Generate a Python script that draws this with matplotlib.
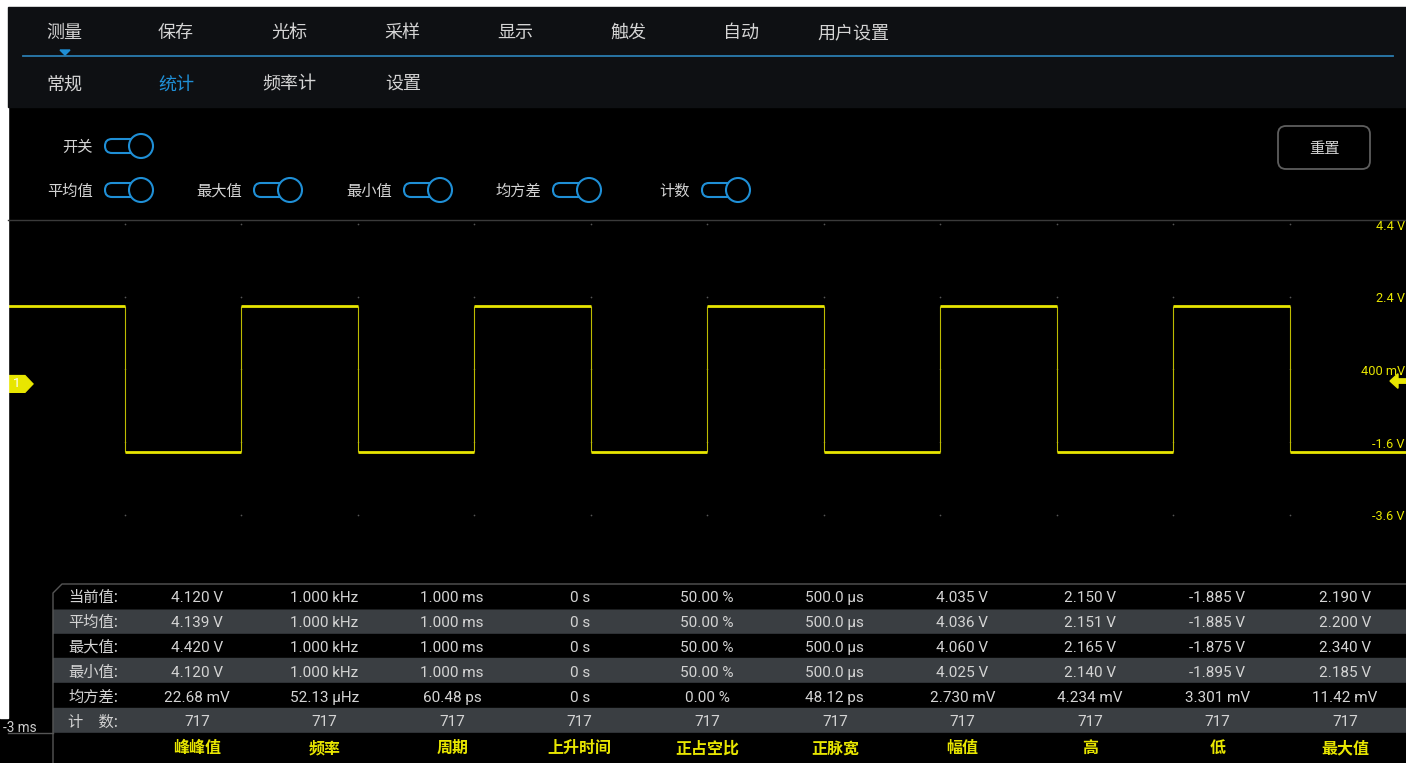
import matplotlib
matplotlib.use("Agg")
import matplotlib.pyplot as plt
from matplotlib.patches import Rectangle, FancyBboxPatch, Circle, Polygon

plt.rcParams['font.family'] = ['Noto Sans CJK SC', 'DejaVu Sans']

###### DATA ######

menu_items = ['测量', '保存', '光标', '采样', '显示', '触发', '自动', '用户设置']
submenu_items = ['常规', '统计', '频率计', '设置']
toggle_labels = ['平均值', '最大值', '最小值', '均方差', '计数']

# square wave: edge times (ms) and level of each segment (V)
edge_times = [-3.0, -2.5, -2.0, -1.5, -1.0, -0.5, 0.0, 0.5, 1.0, 1.5, 2.0, 2.5, 3.0]
segment_levels = [2.15, -1.885, 2.15, -1.885, 2.15, -1.885,
                  2.15, -1.885, 2.15, -1.885, 2.15, -1.885]
grid_times = [-2.5, -2.0, -1.5, -1.0, -0.5, 0.0, 0.5, 1.0, 1.5, 2.0, 2.5]
volt_ticks = [4.4, 2.4, 0.4, -1.6, -3.6]
volt_labels = ['4.4 V', '2.4 V', '400 mV', '-1.6 V', '-3.6 V']
trigger_level = 0.08
channel_offset = 0.0

row_labels = ['当前值:', '平均值:', '最大值:', '最小值:', '均方差:', '计\u3000数:']
col_names = ['峰峰值', '频率', '周期', '上升时间', '正占空比', '正脉宽', '幅值', '高', '低', '最大值']
current_vals = ['4.120 V', '1.000 kHz', '1.000 ms', '0 s', '50.00 %', '500.0 µs',
                '4.035 V', '2.150 V', '-1.885 V', '2.190 V']
mean_vals = ['4.139 V', '1.000 kHz', '1.000 ms', '0 s', '50.00 %', '500.0 µs',
             '4.036 V', '2.151 V', '-1.885 V', '2.200 V']
max_vals = ['4.420 V', '1.000 kHz', '1.000 ms', '0 s', '50.00 %', '500.0 µs',
            '4.060 V', '2.165 V', '-1.875 V', '2.340 V']
min_vals = ['4.120 V', '1.000 kHz', '1.000 ms', '0 s', '50.00 %', '500.0 µs',
            '4.025 V', '2.140 V', '-1.895 V', '2.185 V']
std_vals = ['22.68 mV', '52.13 µHz', '60.48 ps', '0 s', '0.00 %', '48.12 ps',
            '2.730 mV', '4.234 mV', '3.301 mV', '11.42 mV']
count_vals = ['717'] * 10
table_rows = [current_vals, mean_vals, max_vals, min_vals, std_vals, count_vals]

###### STYLE ######

W, H = 1406, 763
YELLOW = '#e8e600'
BLUE = '#1f8fd6'
TEXT = '#d4d4d4'
GRAY_ROW = '#3a3e42'
NUM_FONT = ['Roboto', 'DejaVu Sans']

fig = plt.figure(figsize=(W / 100, H / 100), dpi=100, facecolor='black')

# overlay axes in pixel coordinates for the UI parts
ui = fig.add_axes([0, 0, 1, 1], zorder=2)
ui.set_xlim(0, W)
ui.set_ylim(H, 0)
ui.axis('off')
ui.patch.set_visible(False)

# waveform axes in data coordinates (ms, V)
px_per_volt = 72.7 / 2
px_per_ms = (W - 8) / 6
top_px, bot_px = 220, 584
v_top = 4.4 + (224 - top_px) / px_per_volt
v_bot = 4.4 - (bot_px - 224) / px_per_volt
wave = fig.add_axes([8 / W, (H - bot_px) / H, (W - 8) / W, (bot_px - top_px) / H], zorder=1)
wave.set_facecolor('black')
wave.set_xlim(edge_times[0], edge_times[-1])
wave.set_ylim(v_bot, v_top)
wave.axis('off')

# grid dots
gx = [t for t in grid_times for _ in volt_ticks]
gy = [v for _ in grid_times for v in volt_ticks]
wave.scatter(gx, gy, s=1.5, color='#555555', linewidths=0, zorder=1)

# square wave
wave.vlines(edge_times[1:-1], min(segment_levels), max(segment_levels),
            color='#bdbb00', linewidth=0.8, zorder=2)
wave.hlines(segment_levels, edge_times[:-1], edge_times[1:],
            color=YELLOW, linewidth=2.0, zorder=3)

# volt labels on the right (x in pixels, y in volts)
label_tf = matplotlib.transforms.blended_transform_factory(ui.transData, wave.transData)
for v, lab in zip(volt_ticks, volt_labels):
    wave.text(1405, v - 0.06, lab, color=YELLOW, fontsize=9.2, ha='right', va='center',
              family=NUM_FONT, transform=label_tf, clip_on=False, zorder=5)

# trigger arrow
ty = trigger_level
tip = 3.0 - 16 / px_per_ms
base = 3.0 - 8 / px_per_ms
wave.add_patch(Polygon([[tip, ty], [base, ty + 0.2], [base, ty + 0.06], [3.0, ty + 0.06],
                        [3.0, ty - 0.06], [base, ty - 0.06], [base, ty - 0.2]],
                       closed=True, color=YELLOW, zorder=4, clip_on=False))

# channel marker
mk_body = -3.0 + 17 / px_per_ms
mk_tip = -3.0 + 25 / px_per_ms
wave.add_patch(Polygon([[-3.0, channel_offset + 0.23], [mk_body, channel_offset + 0.23],
                        [mk_tip, channel_offset], [mk_body, channel_offset - 0.23],
                        [-3.0, channel_offset - 0.23]], closed=True, color=YELLOW, zorder=4))
wave.text(-3.0 + 9 / px_per_ms, channel_offset, '1', color='white', fontsize=9.5,
          ha='center', va='center', family=NUM_FONT, zorder=5)

###### UI ######

# white margins
ui.add_patch(Rectangle((0, 0), W, 7, color='white', zorder=0))
ui.add_patch(Rectangle((0, 0), 8, 718, color='white', zorder=0))

# header band
ui.add_patch(Rectangle((8, 7), W - 8, 100, color='#0e1013', zorder=0))
ui.plot([23, 1393], [56, 56], color='#2a7cb0', linewidth=1.3, zorder=1)
ui.add_patch(Polygon([[60, 50], [70, 50], [65, 55]], closed=True, color=BLUE, zorder=2))

menu_x = [64, 176, 289, 402, 515, 628, 741, 853]
for x, name in zip(menu_x, menu_items):
    ui.text(x, 33, name, color=TEXT, fontsize=13, ha='center', va='center')
sub_x = [64, 176, 289, 403]
for i, (x, name) in enumerate(zip(sub_x, submenu_items)):
    ui.text(x, 84.5, name, color=BLUE if i == 1 else TEXT, fontsize=13, ha='center', va='center')


def draw_toggle(x, y):
    ui.add_patch(FancyBboxPatch((x, y - 7), 34, 14, boxstyle='round,pad=0,rounding_size=7',
                                facecolor='black', edgecolor=BLUE, linewidth=1.5, zorder=2))
    ui.add_patch(Circle((x + 36, y), 12, facecolor='black', edgecolor=BLUE,
                        linewidth=1.5, zorder=3))


ui.text(93, 147, '开关', color=TEXT, fontsize=11, ha='right', va='center')
draw_toggle(105, 146)
toggle_right = [93, 242, 392, 541, 690]
for x, name in zip(toggle_right, toggle_labels):
    ui.text(x, 191, name, color=TEXT, fontsize=11, ha='right', va='center')
    draw_toggle(x + 12, 190)

# reset button
ui.add_patch(FancyBboxPatch((1278, 126), 92, 43, boxstyle='round,pad=0,rounding_size=8',
                            facecolor='black', edgecolor='#5e5e5e', linewidth=1.3, zorder=2))
ui.text(1324, 148, '重置', color=TEXT, fontsize=11, ha='center', va='center', zorder=3)

# top border of the plot
ui.plot([8, W], [220, 220], color='#3a3a3a', linewidth=1, zorder=3)

###### TABLE ######

row_h = 24.8
table_top = 584
col_x0, col_dx = 197, 127.56
for r, (lab, vals) in enumerate(zip(row_labels, table_rows)):
    y0 = table_top + r * row_h
    bg = GRAY_ROW if r % 2 == 1 else 'black'
    ui.add_patch(Rectangle((53, y0), W - 53, row_h, color=bg, zorder=1))
    yc = y0 + row_h / 2
    ui.text(68, yc + 1.5, lab, color=TEXT, fontsize=11, ha='left', va='center', zorder=3)
    for c, val in enumerate(vals):
        ui.text(col_x0 + c * col_dx, yc + 2, val, color=TEXT, fontsize=11, ha='center',
                va='center', family=NUM_FONT, zorder=3)
# first row background with the cut corner
ui.add_patch(Polygon([[53, table_top + row_h], [53, table_top + 9], [62, table_top],
                      [W, table_top], [W, table_top + row_h]], closed=True, color='black', zorder=1))
name_y0 = table_top + len(row_labels) * row_h
ui.add_patch(Rectangle((0, name_y0), W, H - name_y0, color='black', zorder=1))
for c, name in enumerate(col_names):
    ui.text(col_x0 + c * col_dx, name_y0 + 15.5, name, color=YELLOW, fontsize=11.5,
            ha='center', va='center', weight='bold', zorder=3)

ui.plot([53, 53, 62, W], [H, table_top + 9, table_top, table_top], color='#555555',
        linewidth=1, zorder=4)
ui.plot([8, 53], [name_y0, name_y0], color='#555555', linewidth=1, zorder=4)
ui.text(3, name_y0 - 5, '-3 ms', color='#cfcfcf', fontsize=9.8, ha='left', va='center',
        family=NUM_FONT, zorder=4)

fig.savefig('out.png', dpi=100, facecolor='black')
